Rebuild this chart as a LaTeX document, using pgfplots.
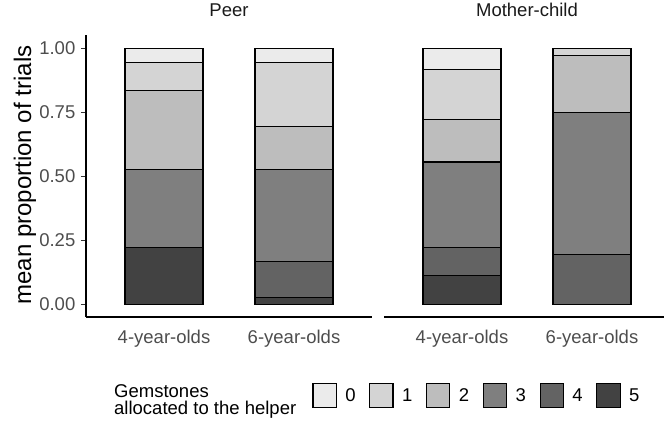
\documentclass[border=0pt]{standalone}
\usepackage{pgfplots}
\pgfplotsset{compat=1.18}
\usepackage{pgfplotstable}
\usepackage{fontspec}
\setmainfont{Liberation Sans}
\definecolor{g0}{HTML}{EBEBEB}
\definecolor{g1}{HTML}{D4D4D4}
\definecolor{g2}{HTML}{BDBDBD}
\definecolor{g3}{HTML}{7F7F7F}
\definecolor{g4}{HTML}{636363}
\definecolor{g5}{HTML}{424242}
\definecolor{tickgray}{HTML}{4D4D4D}
\definecolor{stripgray}{HTML}{1A1A1A}
\definecolor{tickline}{HTML}{333333}
\newcommand{\fs}{\fontsize{18.5}{20}\selectfont}

% x: 1 = 4-year-olds, 2 = 6-year-olds
\pgfplotstableread{
x   c5     c4     c3     c2     c1     c0
1   0.2222 0.0000 0.3056 0.3056 0.1111 0.0555
2   0.0278 0.1389 0.3611 0.1667 0.2500 0.0555
}\peer
\pgfplotstableread{
x   c5     c4     c3     c2     c1     c0
1   0.1111 0.1111 0.3333 0.1667 0.1944 0.0834
2   0.0000 0.1944 0.5556 0.2222 0.0278 0.0000
}\mc

\pgfplotsset{
  panel/.style={
    scale only axis, width=286pt, height=281.5pt,
    xmin=0.4, xmax=2.6, ymin=-0.05, ymax=1.05,
    ybar stacked, bar width=0.6,
    xtick={1,2}, xticklabels={4-year-olds,6-year-olds},
    xtick style={draw=none},
    major tick length=5pt, tick align=outside,
    ytick style={line width=1.1pt, color=tickline},
    xticklabel style={font=\fs, text=tickgray, inner sep=0pt, anchor=north, yshift=-8pt},
    yticklabel style={font=\fs, text=tickgray, inner sep=0pt, anchor=east, xshift=-5.5pt},
    axis line style={-, line width=1.2pt, black},
    title style={font=\fs, text=stripgray, inner sep=0pt, anchor=base, at={(0.5,1)}, yshift=12.5pt},
    legend image code/.code={\draw[#1,draw=black,line width=1.1pt] (0pt,-11.6pt) rectangle (23.2pt,11.6pt);},
  },
  seg/.style={fill=#1, draw=black, line width=1.1pt},
}

\begin{document}
\begin{tikzpicture}[x=1pt,y=1pt]
\useasboundingbox (0,0) rectangle (664,426);

\begin{axis}[panel, at={(86pt,109pt)}, anchor=south west,
  axis x line*=bottom, axis y line*=left,
  ytick={0,0.25,0.5,0.75,1}, yticklabels={0.00,0.25,0.50,0.75,1.00},
  title={Peer},
  ylabel={mean proportion of trials},
  ylabel style={font=\fontsize{24}{26}\selectfont, text=black, inner sep=0pt, anchor=base, at={(axis description cs:-0.1923,0.5044)}},
  reverse legend,
  legend columns=6,
  legend cell align=left,
  legend style={draw=none, fill=none, inner sep=0pt, outer sep=0pt,
    at={(axis description cs:0.7918,-0.2789)}, anchor=west,
    nodes={inner sep=0pt, font=\fs, text=black},
    /tikz/every odd column/.style={column sep=8.5pt},
    /tikz/every even column/.style={column sep=13.7pt}},
]
\addplot[seg=g5] table[x=x,y=c5] {\peer};
\addplot[seg=g4] table[x=x,y=c4] {\peer};
\addplot[seg=g3] table[x=x,y=c3] {\peer};
\addplot[seg=g2] table[x=x,y=c2] {\peer};
\addplot[seg=g1] table[x=x,y=c1] {\peer};
\addplot[seg=g0] table[x=x,y=c0] {\peer};
\legend{5,4,3,2,1,0}
\end{axis}

\begin{axis}[panel, at={(384pt,109pt)}, anchor=south west,
  axis x line*=bottom, axis y line=none, ytick=\empty,
  title={Mother-child},
]
\addplot[seg=g5] table[x=x,y=c5] {\mc};
\addplot[seg=g4] table[x=x,y=c4] {\mc};
\addplot[seg=g3] table[x=x,y=c3] {\mc};
\addplot[seg=g2] table[x=x,y=c2] {\mc};
\addplot[seg=g1] table[x=x,y=c1] {\mc};
\addplot[seg=g0] table[x=x,y=c0] {\mc};
\end{axis}

\node[anchor=north west, inner sep=0pt, align=left, font=\fontsize{18.5}{17.5}\selectfont] at (114,41.8) {Gemstones\\allocated to the helper};
\end{tikzpicture}
\end{document}
